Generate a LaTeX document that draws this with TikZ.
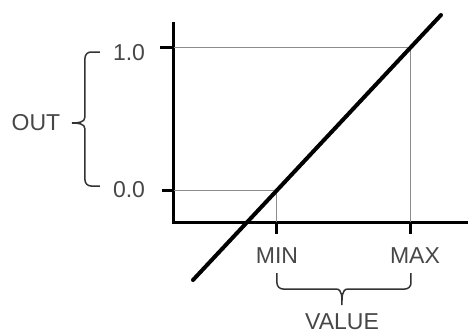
\documentclass[tikz,border=0pt]{standalone}
\usepackage{fontspec}
\setmainfont{Liberation Sans}

\begin{document}
\begin{tikzpicture}[
  x=0.5pt, y=0.5pt,
  label/.style={text=black!72, font=\fontsize{11.5}{13}\selectfont, inner sep=0pt},
  axis/.style={line width=1.5pt},
  guide/.style={black!45, line width=0.5pt},
  curve/.style={line width=2pt, line cap=round},
  brace/.style={black!80, line width=0.75pt}
]
\useasboundingbox (0,0) rectangle (468,334);

% axes
\coordinate (origin) at (174,112);
\draw[axis] (174,312) -- (origin) -- (468,112);

% guides
\draw[guide] (174,287) -- (411,287) -- (411,112);
\draw[guide] (174,144) -- (277,144) -- (277,112);

% ticks
\draw[axis] (160,287) -- (174,287);
\draw[axis] (162,144) -- (174,144);
\draw[axis] (277,112) -- (277,100);
\draw[axis] (411,112) -- (411,100);

% transfer line
\draw[curve] (193,54) -- (441,319);

% labels
\node[label] (one) at (129,281) {1.0};
\node[label] (zero) at (129,144) {0.0};
\node[label] (out) at (36,211) {OUT};
\node[label] (min) at (277,78) {MIN};
\node[label] (max) at (415,78) {MAX};
\node[label] (value) at (342,12) {VALUE};

% braces
\coordinate (outhi) at (100,282);
\coordinate (outlo) at (100,148);
\coordinate (outtip) at (72,211);
\coordinate (vallo) at (277,61);
\coordinate (valhi) at (411,61);
\coordinate (valtip) at (342,29);
\draw[brace] (outhi) -- (91,282) to[out=180,in=90] (85,276) -- (85,217)
  to[out=270,in=0] (outtip) to[out=0,in=90] (85,205) -- (85,154)
  to[out=270,in=180] (91,148) -- (outlo);
\draw[brace] (vallo) -- (277,51) to[out=270,in=180] (283,45) -- (336,45)
  to[out=0,in=90] (valtip) to[out=90,in=180] (348,45) -- (405,45)
  to[out=0,in=270] (411,51) -- (valhi);
\end{tikzpicture}
\end{document}
